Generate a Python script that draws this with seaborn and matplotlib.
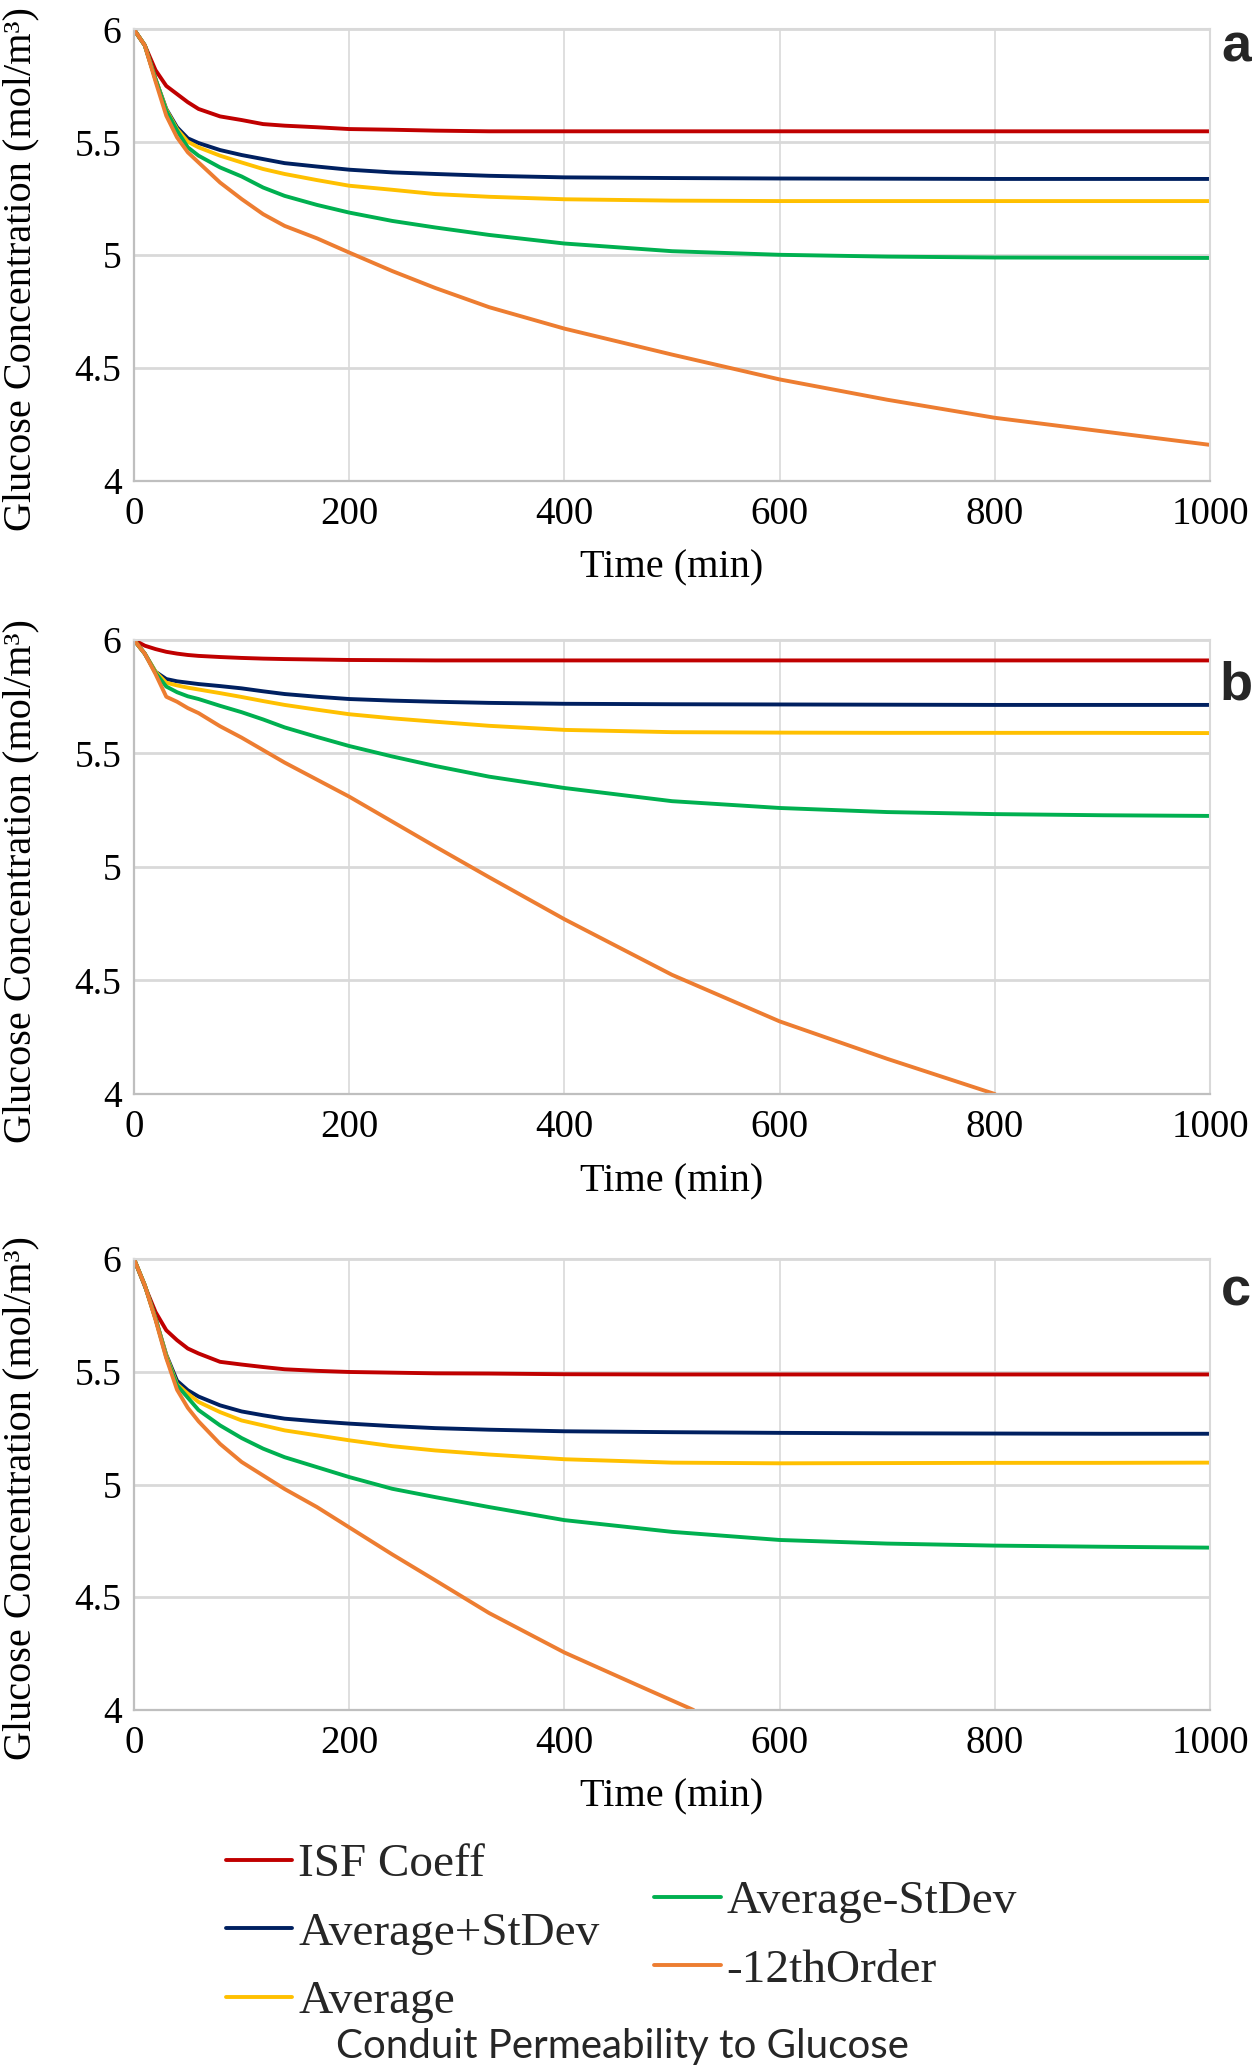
import matplotlib
matplotlib.use("Agg")
import matplotlib.pyplot as plt
import pandas as pd
import seaborn as sns
from matplotlib.lines import Line2D

# ---------------- data ----------------
SERIES = ["ISF Coeff", "Average+StDev", "Average", "Average-StDev", "-12thOrder"]
COLORS = ["#C00000", "#002060", "#FFC000", "#00B050", "#ED7D31"]

TIME = [0, 10, 20, 30, 40, 50, 60, 80, 100, 120, 140, 170, 200, 240, 280, 330, 400,
        500, 600, 700, 800, 900, 1000]

# panel a
A_ISF = [6.0, 5.93, 5.82, 5.75, 5.714, 5.678, 5.648, 5.615, 5.599, 5.581, 5.574, 5.567,
         5.559, 5.556, 5.552, 5.549, 5.549, 5.549, 5.549, 5.549, 5.549, 5.549, 5.549]
A_AVG_PLUS = [6.0, 5.93, 5.78, 5.648, 5.567, 5.518, 5.497, 5.466, 5.444, 5.426, 5.408, 5.393,
              5.379, 5.367, 5.36, 5.352, 5.345, 5.342, 5.340, 5.339, 5.338, 5.338, 5.338]
A_AVG = [6.0, 5.93, 5.78, 5.645, 5.559, 5.503, 5.478, 5.441, 5.411, 5.382, 5.36, 5.333,
         5.308, 5.29, 5.271, 5.259, 5.248, 5.242, 5.240, 5.240, 5.240, 5.240, 5.240]
A_AVG_MINUS = [6.0, 5.93, 5.78, 5.64, 5.552, 5.478, 5.441, 5.389, 5.349, 5.30, 5.263, 5.223,
               5.189, 5.152, 5.123, 5.09, 5.052, 5.018, 5.002, 4.994, 4.990, 4.989, 4.988]
A_ORDER12_TIME = TIME
A_ORDER12 = [6.0, 5.93, 5.77, 5.618, 5.522, 5.456, 5.411, 5.322, 5.249, 5.182, 5.13, 5.075,
             5.012, 4.93, 4.855, 4.77, 4.675, 4.56, 4.45, 4.36, 4.28, 4.22, 4.16]

# panel b
B_ISF = [6.0, 5.975, 5.96, 5.948, 5.94, 5.934, 5.93, 5.925, 5.921, 5.918, 5.916, 5.914,
         5.912, 5.911, 5.91, 5.91, 5.91, 5.91, 5.91, 5.91, 5.91, 5.91, 5.91]
B_AVG_PLUS = [6.0, 5.94, 5.86, 5.828, 5.818, 5.812, 5.806, 5.797, 5.787, 5.774, 5.762, 5.75,
              5.74, 5.733, 5.728, 5.723, 5.719, 5.717, 5.716, 5.715, 5.714, 5.714, 5.714]
B_AVG = [6.0, 5.94, 5.86, 5.812, 5.80, 5.79, 5.782, 5.766, 5.749, 5.731, 5.714, 5.693,
         5.673, 5.655, 5.64, 5.622, 5.604, 5.594, 5.592, 5.591, 5.591, 5.591, 5.59]
B_AVG_MINUS = [6.0, 5.94, 5.855, 5.795, 5.77, 5.752, 5.74, 5.71, 5.682, 5.65, 5.615, 5.573,
               5.533, 5.487, 5.445, 5.398, 5.348, 5.29, 5.26, 5.242, 5.233, 5.228, 5.225]
B_ORDER12_TIME = [0, 10, 20, 30, 40, 50, 60, 80, 100, 120, 140, 170, 200, 240, 280, 330,
                  400, 500, 600, 700, 800]
B_ORDER12 = [6.0, 5.94, 5.85, 5.75, 5.728, 5.70, 5.678, 5.62, 5.57, 5.515, 5.46, 5.385,
             5.31, 5.20, 5.09, 4.955, 4.77, 4.525, 4.32, 4.155, 4.0]

# panel c
C_ISF = [6.0, 5.88, 5.765, 5.684, 5.64, 5.603, 5.581, 5.544, 5.532, 5.521, 5.511, 5.504,
         5.499, 5.496, 5.493, 5.492, 5.489, 5.488, 5.488, 5.488, 5.488, 5.488, 5.488]
C_AVG_PLUS = [6.0, 5.884, 5.736, 5.575, 5.46, 5.418, 5.39, 5.351, 5.324, 5.307, 5.292, 5.28,
              5.27, 5.259, 5.25, 5.243, 5.236, 5.232, 5.229, 5.227, 5.226, 5.225, 5.225]
C_AVG = [6.0, 5.884, 5.736, 5.572, 5.445, 5.403, 5.366, 5.321, 5.284, 5.262, 5.24, 5.218,
         5.196, 5.17, 5.151, 5.133, 5.112, 5.097, 5.094, 5.095, 5.096, 5.096, 5.097]
C_AVG_MINUS = [6.0, 5.884, 5.736, 5.565, 5.44, 5.385, 5.33, 5.262, 5.206, 5.159, 5.121, 5.077,
               5.033, 4.981, 4.944, 4.90, 4.842, 4.79, 4.754, 4.738, 4.729, 4.724, 4.72]
C_ORDER12_TIME = [0, 10, 20, 30, 40, 50, 60, 80, 100, 120, 140, 170, 200, 240, 280, 330,
                  400, 468, 520]
C_ORDER12 = [6.0, 5.884, 5.73, 5.56, 5.42, 5.34, 5.28, 5.18, 5.10, 5.04, 4.98, 4.90,
             4.81, 4.69, 4.575, 4.43, 4.255, 4.11, 4.0]

PANEL_LABELS = ["a", "b", "c"]
X_TICKS = [0, 200, 400, 600, 800, 1000]
X_TICK_LABELS = ["0", "200", "400", "600", "800", "1000"]
Y_TICKS = [4, 4.5, 5, 5.5, 6]
Y_TICK_LABELS = ["4", "4.5", "5", "5.5", "6"]
X_LABEL = "Time (min)"
Y_LABEL = "Glucose Concentration (mol/m³)"
LEGEND_TITLE = "Conduit Permeability to Glucose"

PANELS = [
    [(TIME, A_ISF), (TIME, A_AVG_PLUS), (TIME, A_AVG), (TIME, A_AVG_MINUS), (A_ORDER12_TIME, A_ORDER12)],
    [(TIME, B_ISF), (TIME, B_AVG_PLUS), (TIME, B_AVG), (TIME, B_AVG_MINUS), (B_ORDER12_TIME, B_ORDER12)],
    [(TIME, C_ISF), (TIME, C_AVG_PLUS), (TIME, C_AVG), (TIME, C_AVG_MINUS), (C_ORDER12_TIME, C_ORDER12)],
]

# ---------------- style ----------------
sns.set_theme(style="white")
plt.rcParams["font.family"] = ["Liberation Serif", "DejaVu Serif"]

W, H = 1252, 2070
fig = plt.figure(figsize=(W / 100, H / 100), dpi=100)

# axes boxes in pixels: (left, top, right, bottom)
BOXES = [(134, 29.5, 1210, 481), (134, 640, 1210, 1094), (134, 1259, 1210, 1710)]
LETTER_POS = [(1236, 61), (1236, 700), (1236, 1306)]

palette = dict(zip(SERIES, COLORS))
LW = 2.8

for i, (box, series_data) in enumerate(zip(BOXES, PANELS)):
    l, t, r, b = box
    ax = fig.add_axes([l / W, 1 - b / H, (r - l) / W, (b - t) / H])
    frames = []
    for name, (tt, vv) in zip(SERIES, series_data):
        frames.append(pd.DataFrame({"Time": tt, "Conc": vv, "Series": name}))
    df = pd.concat(frames, ignore_index=True)
    sns.lineplot(data=df, x="Time", y="Conc", hue="Series", hue_order=SERIES,
                 palette=palette, errorbar=None, linewidth=LW, legend=False, ax=ax)
    ax.set_xlim(0, 1000)
    ax.set_ylim(4, 6)
    ax.set_xticks(X_TICKS, X_TICK_LABELS)
    ax.set_yticks(Y_TICKS, Y_TICK_LABELS)
    ax.tick_params(axis="x", length=0, pad=11, labelsize=28, colors="black")
    ax.tick_params(axis="y", length=0, pad=9, labelsize=27, colors="black")
    ax.xaxis.grid(True, color="#D9D9D9", linewidth=1.2)
    ax.yaxis.grid(True, color="#D9D9D9", linewidth=2.0)
    ax.set_axisbelow(True)
    for side in ["top", "right"]:
        ax.spines[side].set_color("#D9D9D9")
        ax.spines[side].set_linewidth(1.5)
    for side in ["left", "bottom"]:
        ax.spines[side].set_color("#BFBFBF")
        ax.spines[side].set_linewidth(1.6)
    ax.set_xlabel(X_LABEL, fontsize=29, color="black")
    ax.set_ylabel(Y_LABEL, fontsize=29, color="black")
    ax.xaxis.label.set_va("center")
    ax.xaxis.set_label_coords(0.5, -(568 - 481) / (481 - 29.5))
    ax.yaxis.label.set_va("center")
    ax.yaxis.set_label_coords((21 - 134) / (1210 - 134), 0.47)
    lx, ly = LETTER_POS[i]
    fig.text(lx / W, 1 - ly / H, PANEL_LABELS[i], ha="center", va="baseline",
             fontsize=39, fontweight="bold", family=["Liberation Sans", "DejaVu Sans"])

handles = [Line2D([], [], color=c, linewidth=2.8) for c in COLORS]
leg_kw = dict(frameon=False, fontsize=34, handlelength=1.41, handletextpad=0.13,
              labelspacing=0.54, borderpad=0, borderaxespad=0, loc="upper left")
fig.legend(handles[:3], SERIES[:3], bbox_to_anchor=(225.5 / W, 1 - 1843 / H), **leg_kw)
fig.legend(handles[3:], SERIES[3:], bbox_to_anchor=(654 / W, 1 - 1880 / H), **leg_kw)
fig.text(622 / W, 1 - 2058 / H, LEGEND_TITLE, ha="center", va="baseline",
         fontsize=29, family=["Lato", "DejaVu Sans"])

fig.savefig("out.png", dpi=100)
